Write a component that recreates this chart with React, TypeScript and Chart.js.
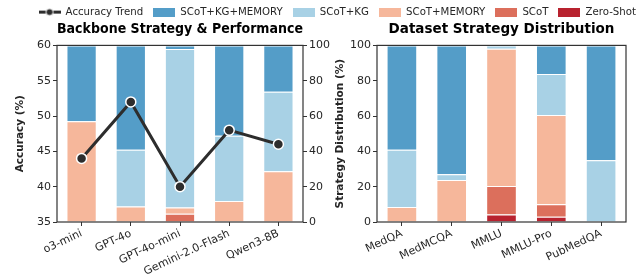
import React, { useEffect, useRef } from 'react';
import { Chart, registerables } from 'chart.js';
Chart.register(...registerables);

const FONT = '"DejaVu Sans", sans-serif';
const TEXT = '#262626';
const AXIS = '#333333';

const backbones = ['o3-mini', 'GPT-4o', 'GPT-4o-mini', 'Gemini-2.0-Flash', 'Qwen3-8B'];
const accuracy = [44, 52, 40, 48, 46];
const bZeroShot = [0, 0, 0, 0, 0];
const bScot = [0, 0, 4.7, 0, 0];
const bScotMem = [57, 8.8, 3.5, 11.9, 28.7];
const bScotKg = [0, 32.1, 89.8, 37, 45.1];
const bScotKgMem = [43, 59.1, 2, 51.1, 26.2];

const datasetNames = ['MedQA', 'MedMCQA', 'MMLU', 'MMLU-Pro', 'PubMedQA'];
const dZeroShot = [0, 0, 4.2, 3.0, 0];
const dScot = [0, 0, 16.2, 7.0, 0];
const dScotMem = [8.5, 23.8, 77.7, 50.6, 0];
const dScotKg = [32.4, 3.2, 1.9, 23.2, 34.9];
const dScotKgMem = [59.1, 73, 0, 16.2, 65.1];

const strategies = ['Zero-Shot', 'SCoT', 'SCoT+MEMORY', 'SCoT+KG', 'SCoT+KG+MEMORY'];
const strategyColors = ['#b8222f', '#dc6f5c', '#f6b79b', '#a8d1e5', '#549dc8'];
const lineColor = '#2d2d2d';

const leftTicks = { min: 35, max: 60, step: 5 };
const pctTicks = { min: 0, max: 100, step: 20 };

function makeSwatch(color: string, isLine: boolean) {
  const c = document.createElement('canvas');
  c.width = 22;
  c.height = 9;
  const ctx = c.getContext('2d')!;
  if (isLine) {
    ctx.strokeStyle = color;
    ctx.lineWidth = 3;
    ctx.beginPath();
    ctx.moveTo(0, 4.5);
    ctx.lineTo(22, 4.5);
    ctx.stroke();
    ctx.fillStyle = color;
    ctx.beginPath();
    ctx.arc(11, 4.5, 3.6, 0, Math.PI * 2);
    ctx.fill();
    ctx.strokeStyle = '#ffffff';
    ctx.lineWidth = 1;
    ctx.stroke();
  } else {
    ctx.fillStyle = color;
    ctx.fillRect(0, 0, 22, 9);
  }
  return c;
}

const framePlugin = {
  id: 'frame',
  afterDatasetsDraw(chart: any) {
    const { ctx, chartArea } = chart;
    ctx.save();
    ctx.strokeStyle = AXIS;
    ctx.lineWidth = 1.2;
    ctx.strokeRect(chartArea.left, chartArea.top, chartArea.right - chartArea.left, chartArea.bottom - chartArea.top);
    ctx.restore();
  },
};

function barDatasets(values: number[][]) {
  return strategies.map((name, i) => ({
    type: 'bar' as const,
    label: name,
    data: values[i],
    backgroundColor: strategyColors[i],
    borderColor: '#ffffff',
    borderWidth: 1,
    yAxisID: 'y1',
    barPercentage: 0.615,
    categoryPercentage: 1,
  }));
}

const tickFont = { family: FONT, size: 11 };
const gridOpts = { display: true, drawOnChartArea: false, drawTicks: true, tickLength: 4, color: AXIS, lineWidth: 1 };
const titlePad = { top: -6, bottom: 8 };
const titleFont = { family: FONT, size: 13.5, weight: 'bold' };

function xAxis() {
  return {
    stacked: true,
    offset: true,
    grid: { ...gridOpts, offset: false },
    border: { display: false },
    ticks: { font: tickFont, color: TEXT, minRotation: 25, maxRotation: 25, autoSkip: false, padding: 1 },
    afterFit: (s: any) => { s.height = 56; },
  };
}

export default function App() {
  const refA = useRef<HTMLCanvasElement>(null);
  const refB = useRef<HTMLCanvasElement>(null);

  useEffect(() => {
    const swatches: any[] = [makeSwatch(lineColor, true), ...strategyColors.map((c) => makeSwatch(c, false))];

    const chartA = new Chart(refA.current!, {
      type: 'bar',
      data: {
        labels: backbones,
        datasets: [
          {
            type: 'line' as const,
            label: 'Accuracy Trend',
            data: accuracy,
            borderColor: lineColor,
            backgroundColor: lineColor,
            borderWidth: 3,
            pointRadius: 5,
            pointBackgroundColor: lineColor,
            pointBorderColor: '#ffffff',
            pointBorderWidth: 1.5,
            tension: 0,
            yAxisID: 'y',
            order: -1,
          } as any,
          ...barDatasets([bZeroShot, bScot, bScotMem, bScotKg, bScotKgMem]),
        ],
      },
      options: {
        responsive: false,
        animation: false,
        devicePixelRatio: 1,
        layout: { padding: { top: 2, left: 0, right: -6, bottom: 0 } },
        plugins: {
          tooltip: { enabled: false },
          legend: {
            display: true,
            position: 'top',
            align: 'end',
            weight: 3000,
            labels: {
              usePointStyle: true,
              pointStyleWidth: 22,
              boxHeight: 8,
              padding: 10,
              color: TEXT,
              font: { family: FONT, size: 10.2 },
              generateLabels: (chart: any) => {
                const items = (Chart.defaults.plugins.legend.labels as any).generateLabels(chart);
                return items.map((it: any) => ({ ...it, pointStyle: swatches[it.datasetIndex] }));
              },
              sort: (a: any, b: any) => {
                const k = (it: any) => (it.datasetIndex === 0 ? -100 : -it.datasetIndex);
                return k(a) - k(b);
              },
            },
          } as any,
          title: {
            display: true,
            text: 'Backbone Strategy & Performance',
            fullSize: false,
            color: '#000',
            font: titleFont,
            padding: titlePad,
          } as any,
        },
        scales: {
          x: xAxis() as any,
          y: {
            position: 'left',
            min: leftTicks.min,
            max: leftTicks.max,
            grid: gridOpts,
            border: { display: false },
            ticks: { stepSize: leftTicks.step, font: tickFont, color: TEXT, padding: 2 },
            title: { display: true, text: 'Accuracy (%)', color: TEXT, font: { family: FONT, size: 10.5, weight: 'bold' }, padding: { top: 14, bottom: 0 } },
            afterFit: (s: any) => { s.width = 57; },
          } as any,
          y1: {
            position: 'right',
            stacked: true,
            min: pctTicks.min,
            max: pctTicks.max,
            grid: gridOpts,
            border: { display: false },
            ticks: { stepSize: pctTicks.step, font: tickFont, color: TEXT, padding: 2 },
            afterFit: (s: any) => { s.width = 646 - 303; },
          } as any,
        },
      },
      plugins: [framePlugin],
    });

    const legendBottom = chartA.legend ? (chartA.legend as any).bottom : 20;

    const chartB = new Chart(refB.current!, {
      type: 'bar',
      data: {
        labels: datasetNames,
        datasets: barDatasets([dZeroShot, dScot, dScotMem, dScotKg, dScotKgMem]) as any,
      },
      options: {
        responsive: false,
        animation: false,
        devicePixelRatio: 1,
        layout: { padding: { top: legendBottom, left: 0, right: 14, bottom: 0 } },
        plugins: {
          tooltip: { enabled: false },
          legend: { display: false },
          title: {
            display: true,
            text: 'Dataset Strategy Distribution',
            fullSize: false,
            color: '#000',
            font: titleFont,
            padding: titlePad,
          } as any,
        },
        scales: {
          x: xAxis() as any,
          y1: {
            position: 'left',
            stacked: true,
            min: pctTicks.min,
            max: pctTicks.max,
            grid: gridOpts,
            border: { display: false },
            ticks: { stepSize: pctTicks.step, font: tickFont, color: TEXT, padding: 2 },
            title: { display: true, text: 'Strategy Distribution (%)', color: TEXT, font: { family: FONT, size: 10.5, weight: 'bold' }, padding: { top: 14, bottom: 0 } },
            afterFit: (s: any) => { s.width = 57; },
          } as any,
        },
      },
      plugins: [framePlugin],
    });

    return () => {
      chartA.destroy();
      chartB.destroy();
    };
  }, []);

  return (
    <div style={{ position: 'absolute', left: 0, top: 0, width: 640, height: 278, overflow: 'hidden', background: '#ffffff' }}>
      <canvas ref={refA} width={640} height={283} style={{ position: 'absolute', left: 0, top: -5, width: 640, height: 283 }} />
      <canvas ref={refB} width={320} height={283} style={{ position: 'absolute', left: 320, top: -5, width: 320, height: 283 }} />
    </div>
  );
}
